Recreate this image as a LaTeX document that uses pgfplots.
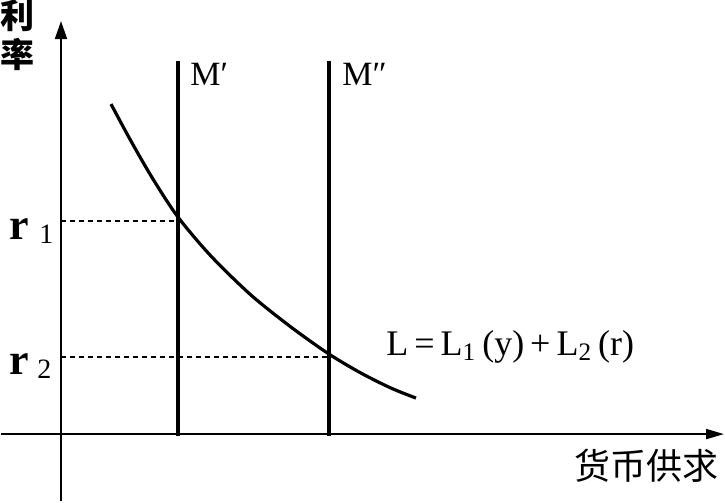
\documentclass[border=0pt]{standalone}
\usepackage{pgfplots}
\pgfplotsset{compat=1.18}
\usepackage{fontspec}
\setmainfont{Liberation Serif}
\newfontfamily\cjk{Noto Sans CJK SC}
\usetikzlibrary{arrows.meta}
\begin{document}
\begin{tikzpicture}
\begin{axis}[
  width=362.5pt, height=251pt, scale only axis,
  xmin=0, xmax=725, ymin=0, ymax=502, y dir=reverse,
  axis lines=none, ticks=none, clip=false,
]
% axes
\addplot[black, line width=1pt, -{Triangle[length=9pt,width=6pt]}] coordinates {(60,502) (60,22)};
\addplot[black, line width=1pt, -{Triangle[length=9pt,width=5pt]}] coordinates {(0,435) (723,435)};
% money supply lines
\addplot[black, line width=2.2pt] coordinates {(177,62) (177,437)};
\addplot[black, line width=2.2pt] coordinates {(328,62) (328,437)};
% demand curve
\addplot[black, line width=1.6pt, smooth] coordinates {
(110,105) (130,142) (152,180) (177,218) (210,257) (250,296) (290,328) (328,355) (360,374) (390,389) (415,399)};
% dashed guides
\addplot[black, line width=0.6pt, dash pattern=on 2.5pt off 2pt] coordinates {(60,222) (177,222)};
\addplot[black, line width=0.6pt, dash pattern=on 2.5pt off 2pt] coordinates {(60,358) (328,358)};
% labels
\node[font=\cjk\bfseries\fontsize{17}{17}\selectfont, inner sep=0pt] at (axis cs:17,17) {利};
\node[font=\cjk\bfseries\fontsize{17}{17}\selectfont, inner sep=0pt] at (axis cs:17,55) {率};
\node[font=\cjk\fontsize{18}{18}\selectfont, inner sep=0pt] at (axis cs:646,467) {货币供求};
\node[font=\fontsize{17}{17}\selectfont, anchor=base west, inner sep=0pt] at (axis cs:189,86) {M′};
\node[font=\fontsize{17}{17}\selectfont, anchor=base west, inner sep=0pt] at (axis cs:341,86) {M″};
\node[font=\bfseries\fontsize{22}{22}\selectfont, anchor=base west, inner sep=0pt] at (axis cs:8,240) {r};
\node[font=\fontsize{14}{14}\selectfont, anchor=base west, inner sep=0pt] at (axis cs:38,244) {1};
\node[font=\bfseries\fontsize{22}{22}\selectfont, anchor=base west, inner sep=0pt] at (axis cs:8,375) {r};
\node[font=\fontsize{14}{14}\selectfont, anchor=base west, inner sep=0pt] at (axis cs:36,379) {2};
\node[font=\fontsize{18}{18}\selectfont, anchor=base west, inner sep=0pt] at (axis cs:385,356) {L\,=\,L\textsubscript{1}\,(y)\,+\,L\textsubscript{2}\,(r)};
\end{axis}
\end{tikzpicture}
\end{document}
